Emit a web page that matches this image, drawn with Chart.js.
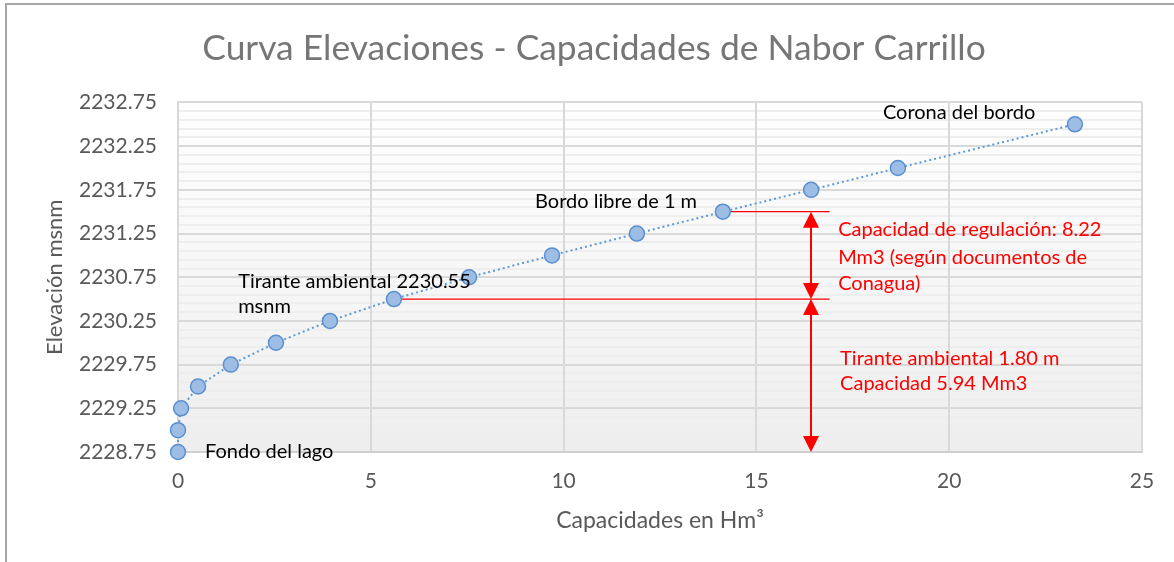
<!DOCTYPE html>
<html>
<head>
<meta charset="utf-8">
<script src="https://cdn.jsdelivr.net/npm/chart.js@4.4.1/dist/chart.umd.min.js"></script>
<style>
  html, body { margin: 0; padding: 0; background: #fff; }
  #wrap { position: relative; width: 1174px; height: 562px; overflow: hidden; }
  #marco { position: absolute; left: 5px; top: 3px; right: -10px; bottom: -10px;
           border-left: 2px solid #a6a6a6; border-top: 2px solid #a6a6a6; pointer-events: none; }
</style>
</head>
<body>
<div id="wrap">
  <canvas id="curva" width="1174" height="562"></canvas>
  <div id="marco"></div>
</div>
<script>
// --- Datos ---
const capacidades = [0, 0, 0.08, 0.52, 1.37, 2.54, 3.94, 5.6, 7.55, 9.7, 11.9, 14.13, 16.42, 18.67, 23.26];
const elevaciones = [2228.75, 2229.0, 2229.25, 2229.5, 2229.75, 2230.0, 2230.25, 2230.5, 2230.75, 2231.0, 2231.25, 2231.5, 2231.75, 2232.0, 2232.5];

const yTicks = [2228.75, 2229.25, 2229.75, 2230.25, 2230.75, 2231.25, 2231.75, 2232.25, 2232.75];
const xTicks = [0, 5, 10, 15, 20, 25];

// --- Anotaciones (en unidades de los ejes) ---
const lineasRojas = [
    { x1: 5.6, x2: 16.9, y: 2230.5 },
    { x1: 14.13, x2: 16.9, y: 2231.5 }
];
const flechas = [
    { x: 16.42, y1: 2231.5, y2: 2230.5 },
    { x: 16.42, y1: 2230.5, y2: 2228.75 }
];
const etiquetas = [
    { text: 'Corona del bordo', x: 18.28, y: 2232.64, color: '#000' },
    { text: 'Bordo libre de 1 m', x: 9.26, y: 2231.62, color: '#000' },
    { text: 'Tirante ambiental 2230.55', x: 1.56, y: 2230.70, color: '#000' },
    { text: 'msnm', x: 1.56, y: 2230.42, color: '#000' },
    { text: 'Fondo del lago', x: 0.70, y: 2228.75, color: '#000' },
    { text: 'Capacidad de regulación: 8.22', x: 17.12, y: 2231.30, color: '#ff0000' },
    { text: 'Mm3 (según documentos de', x: 17.12, y: 2230.98, color: '#ff0000' },
    { text: 'Conagua)', x: 17.12, y: 2230.68, color: '#ff0000' },
    { text: 'Tirante ambiental 1.80 m', x: 17.17, y: 2229.82, color: '#ff0000' },
    { text: 'Capacidad 5.94 Mm3', x: 17.17, y: 2229.53, color: '#ff0000' }
];

const FONT = 'Lato, "Open Sans", sans-serif';
const GRIS = '#595959';

// fondo degradado + lineas menores
const fondoPlugin = {
    id: 'fondo',
    beforeDraw(chart) {
        const { ctx, chartArea: a, scales: { y } } = chart;
        ctx.save();
        const g = ctx.createLinearGradient(0, a.top, 0, a.bottom);
        g.addColorStop(0, '#ffffff');
        g.addColorStop(1, '#eeeeee');
        ctx.fillStyle = g;
        ctx.fillRect(a.left, a.top, a.width, a.height);
        ctx.strokeStyle = '#eeeeee';
        ctx.lineWidth = 2;
        for (let k = 1; k < 40; k++) {
            if (k % 5 === 0) continue;
            const py = Math.round(y.getPixelForValue(yTicks[0] + k * 0.1));
            ctx.beginPath();
            ctx.moveTo(a.left, py);
            ctx.lineTo(a.right, py);
            ctx.stroke();
        }
        ctx.restore();
    }
};

function punta(ctx, x, y, dir) {
    // dir = -1 apunta arriba, 1 apunta abajo
    ctx.beginPath();
    ctx.moveTo(x, y);
    ctx.lineTo(x - 8, y - dir * 16);
    ctx.lineTo(x + 8, y - dir * 16);
    ctx.closePath();
    ctx.fill();
}

const anotPlugin = {
    id: 'anotaciones',
    beforeDatasetsDraw(chart) {
        const { ctx, scales: { x, y } } = chart;
        ctx.save();
        ctx.setLineDash([]);
        ctx.strokeStyle = 'rgb(255,0,0)';
        ctx.fillStyle = 'rgb(255,0,0)';
        ctx.lineWidth = 1.3;
        lineasRojas.forEach(l => {
            const py = y.getPixelForValue(l.y);
            ctx.beginPath();
            ctx.moveTo(x.getPixelForValue(l.x1), py);
            ctx.lineTo(x.getPixelForValue(l.x2), py);
            ctx.stroke();
        });
        ctx.lineWidth = 2;
        flechas.forEach(f => {
            const px = Math.round(x.getPixelForValue(f.x));
            const a = y.getPixelForValue(f.y1), b = y.getPixelForValue(f.y2);
            ctx.beginPath();
            ctx.moveTo(px, a + 10);
            ctx.lineTo(px, b - 10);
            ctx.stroke();
            punta(ctx, px, a, -1);
            punta(ctx, px, b, 1);
        });
        ctx.restore();
    },
    afterDatasetsDraw(chart) {
        const { ctx, scales: { x, y } } = chart;
        ctx.save();
        ctx.font = '20px ' + FONT;
        ctx.textBaseline = 'middle';
        ctx.textAlign = 'left';
        etiquetas.forEach(e => {
            ctx.fillStyle = e.color;
            ctx.fillText(e.text, x.getPixelForValue(e.x), y.getPixelForValue(e.y));
        });
        ctx.restore();
    }
};

new Chart(document.getElementById('curva'), {
    type: 'scatter',
    data: {
        datasets: [{
            data: capacidades.map((c, i) => ({ x: c, y: elevaciones[i] })),
            showLine: true,
            clip: false,
            borderColor: '#5b9bd5',
            borderWidth: 2,
            borderDash: [2, 3],
            pointRadius: 7.5,
            pointBackgroundColor: '#9dbde4',
            pointBorderColor: '#5b8fd0',
            pointBorderWidth: 1.5
        }]
    },
    options: {
        responsive: false,
        animation: false,
        devicePixelRatio: 1,
        layout: { padding: { left: 14, right: 0, top: 0, bottom: 0 } },
        plugins: {
            legend: { display: false },
            tooltip: { enabled: false },
            title: {
                display: true,
                text: 'Curva Elevaciones - Capacidades de Nabor Carrillo',
                color: '#767676',
                font: { family: FONT, size: 35.4, weight: 'normal' },
                padding: { top: 27, bottom: 33 }
            }
        },
        scales: {
            x: {
                type: 'linear',
                min: 0, max: 25,
                afterFit: s => { s.height = 110; s.paddingRight = 32; },
                afterBuildTicks: s => { s.ticks = xTicks.map(v => ({ value: v })); },
                ticks: { color: GRIS, font: { family: FONT, size: 21 }, padding: 17 },
                grid: { color: '#d9d9d9', lineWidth: 2, drawTicks: false },
                border: { color: '#d0d0d0', width: 2 },
                title: {
                    display: true, text: 'Capacidades en Hm³', color: GRIS,
                    font: { family: FONT, size: 23 }, padding: { top: 0, bottom: 28 }
                }
            },
            y: {
                type: 'linear',
                min: 2228.75, max: 2232.75,
                afterFit: s => { s.width = 164; },
                afterBuildTicks: s => { s.ticks = yTicks.map(v => ({ value: v })); },
                ticks: {
                    color: GRIS, font: { family: FONT, size: 21 }, padding: 21,
                    callback: v => v.toFixed(2)
                },
                grid: { color: '#d9d9d9', lineWidth: 2, drawTicks: false },
                border: { color: '#d9d9d9', width: 2 },
                title: {
                    display: true, text: 'Elevación msnm', color: GRIS,
                    font: { family: FONT, size: 22 }, padding: { top: 28, bottom: 0 }
                }
            }
        }
    },
    plugins: [fondoPlugin, anotPlugin]
});
</script>
</body>
</html>
